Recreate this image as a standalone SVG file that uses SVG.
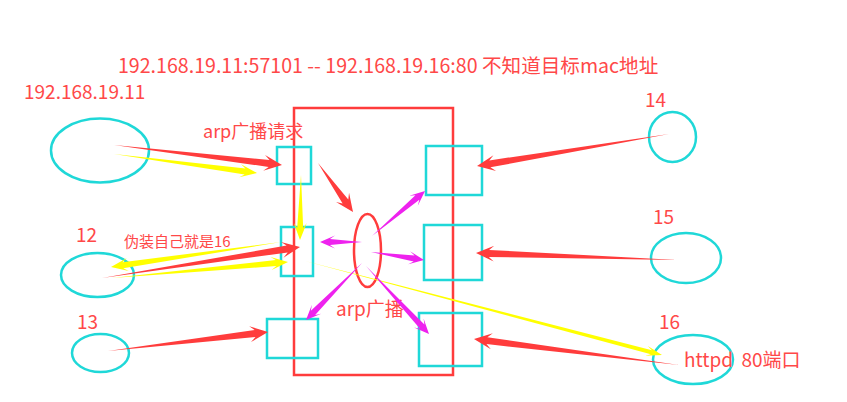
<svg xmlns="http://www.w3.org/2000/svg" width="847" height="402" viewBox="0 0 847 402">
<style>
.t{font-family:"Microsoft YaHei","Noto Sans CJK SC","Liberation Sans",sans-serif;fill:#ff4848}
.box{fill:none;stroke:#1fd8d8;stroke-width:2.5}
.host{fill:none;stroke:#1fd8d8;stroke-width:2.5}
.red{fill:#ff3c3c}
.yel{fill:#ffff00}
.mag{fill:#ee22ee}
</style>
<rect width="847" height="402" fill="#ffffff"/>
<g id="title"><text class="t" x="118" y="73" font-size="19.6">192.168.19.11:57101 -- 192.168.19.16:80 不知道目标mac地址</text></g>
<g id="switch">
<rect x="294" y="108" width="159" height="267" fill="none" stroke="#ff3c3c" stroke-width="2.5"/>
<ellipse cx="367.5" cy="250.5" rx="13.5" ry="36.5" fill="none" stroke="#ff3c3c" stroke-width="2.5"/>
<text class="t" x="203" y="138" font-size="18">arp广播请求</text>
<text class="t" x="336" y="316" font-size="19">arp广播</text>
</g>
<g id="port1"><rect class="box" x="277" y="147" width="34" height="37"/></g>
<g id="port2"><rect class="box" x="281" y="227" width="32" height="49"/></g>
<g id="port3"><rect class="box" x="267" y="319" width="51" height="39"/></g>
<g id="port4"><rect class="box" x="426" y="146" width="56" height="49"/></g>
<g id="port5"><rect class="box" x="424" y="225" width="58" height="55"/></g>
<g id="port6"><rect class="box" x="419" y="313" width="63" height="53"/></g>
<g id="host11"><ellipse class="host" cx="100" cy="150.5" rx="49" ry="32"/><text class="t" x="24" y="99" font-size="19">192.168.19.11</text></g>
<g id="host12"><ellipse class="host" cx="97.5" cy="275" rx="36.5" ry="22"/><text class="t" x="76" y="242" font-size="19">12</text><text class="t" x="124" y="247" font-size="15">伪装自己就是16</text></g>
<g id="host13"><ellipse class="host" cx="100.5" cy="353" rx="28.5" ry="19"/><text class="t" x="77" y="329" font-size="19">13</text></g>
<g id="host14"><ellipse class="host" cx="672.5" cy="137" rx="23.5" ry="25"/><text class="t" x="645" y="107" font-size="19">14</text></g>
<g id="host15"><ellipse class="host" cx="686" cy="258" rx="35" ry="25"/><text class="t" x="653" y="224" font-size="19">15</text></g>
<g id="host16"><ellipse class="host" cx="693" cy="359.5" rx="40" ry="24.5"/><text class="t" x="659" y="329" font-size="19">16</text><text class="t" x="684" y="367" font-size="19" xml:space="preserve">httpd  80端口</text></g>
<g id="connectors">
<polygon class="red" points="114,145 268.68,166.94 263.18,170.82 282,165 265.08,154.93 269.5,159.99"/>
<polygon class="red" points="318,163 342.6,203.46 336.03,202 353,212 349.05,192.7 348.29,199.39"/>
<polygon class="red" points="102,278 287.7,252.47 283.46,257.69 300,247 280.98,241.88 286.62,245.55"/>
<polygon class="red" points="108,351 255.5,337.01 251.07,342.07 268,332 249.19,326.18 254.68,330.06"/>
<polygon class="red" points="669,134 489.25,160.41 493.44,155.15 477,166 496.07,170.93 490.4,167.31"/>
<polygon class="red" points="677,260 489.11,249.95 494.27,245.63 476,253 493.71,261.62 488.87,256.95"/>
<polygon class="red" points="679,365 487.34,337.16 492.87,333.33 474,339 490.85,349.2 486.46,344.11"/>
<polygon class="yel" points="114,154 244.71,174.39 239.29,177.2 257,173 241.01,164.32 245.5,168.45"/>
<polygon class="yel" points="301,175 297.18,227.95 293.76,222.9 300,240 306.76,223.1 303.18,228.05"/>
<polygon class="yel" points="281,242 122.43,262.29 126.87,258.1 111,267 128.77,270.96 123.31,268.22"/>
<polygon class="yel" points="112,278 276.32,266.07 271.66,270.01 288,262 270.48,257.07 275.78,260.1"/>
<polygon class="yel" points="305,261 650.85,354.13 645.26,355.76 662,355 647.8,346.09 651.87,350.27"/>
<polygon class="mag" points="362,242 330,239 335,235.5 320,242 335,248.5 330,245"/>
<polygon class="mag" points="372,236 419.32,199.76 417.78,205.67 425,191 409.36,195.75 415.44,195.18"/>
<polygon class="mag" points="371,252 413.66,261.47 408.2,264.19 424,260 410.14,251.33 414.56,255.54"/>
<polygon class="mag" points="362,263 310.87,310.77 311.87,304.75 306,320 321.15,313.86 315.15,314.97"/>
<polygon class="mag" points="366,266 420,328.7 414.04,327.42 429,334 423.58,318.58 424.4,324.62"/>
</g>
</svg>
